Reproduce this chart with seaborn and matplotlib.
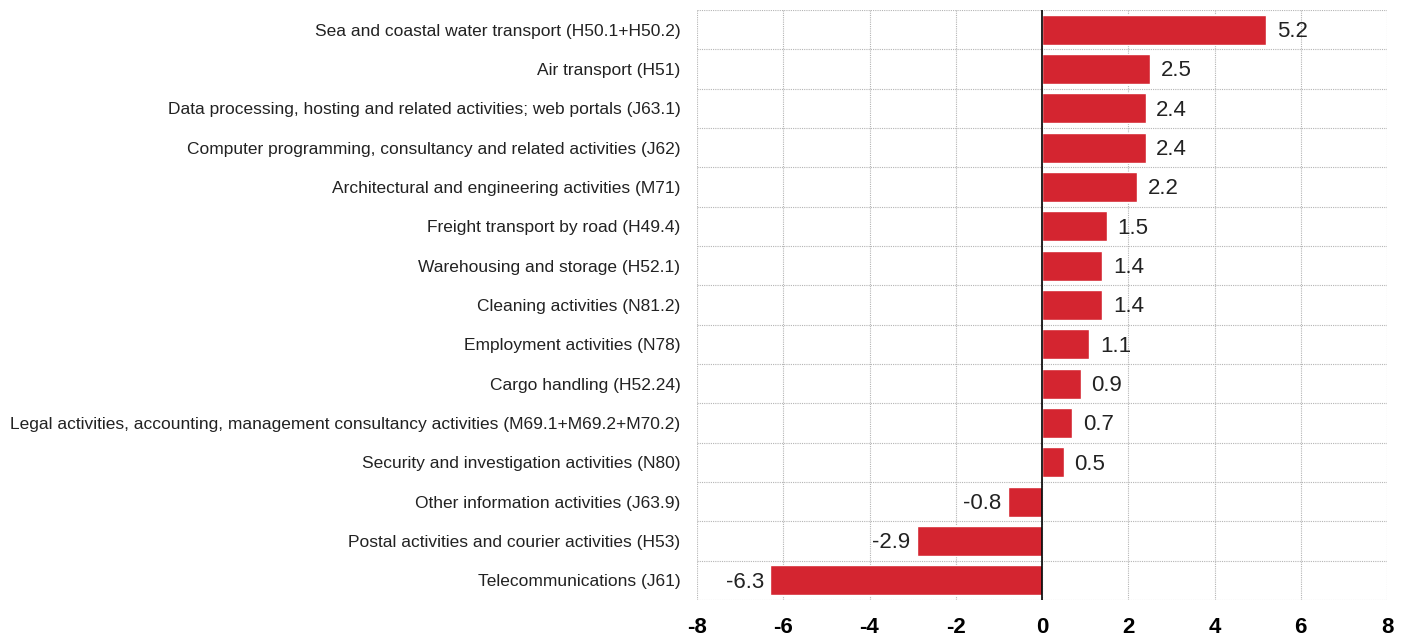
import matplotlib
matplotlib.use("Agg")
import matplotlib.pyplot as plt
import seaborn as sns
import pandas as pd
import numpy as np
from matplotlib import font_manager

categories = [
    "Sea and coastal water transport (H50.1+H50.2)",
    "Air transport (H51)",
    "Data processing, hosting and related activities; web portals (J63.1)",
    "Computer programming, consultancy and related activities (J62)",
    "Architectural and engineering activities (M71)",
    "Freight transport by road (H49.4)",
    "Warehousing and storage (H52.1)",
    "Cleaning activities (N81.2)",
    "Employment activities (N78)",
    "Cargo handling (H52.24)",
    "Legal activities, accounting, management consultancy activities (M69.1+M69.2+M70.2)",
    "Security and investigation activities (N80)",
    "Other information activities (J63.9)",
    "Postal activities and courier activities (H53)",
    "Telecommunications (J61)",
]
values = [5.2, 2.5, 2.4, 2.4, 2.2, 1.5, 1.4, 1.4, 1.1, 0.9, 0.7, 0.5, -0.8, -2.9, -6.3]
xticks = [-8, -6, -4, -2, 0, 2, 4, 6, 8]

sns.set_theme(style="white")
installed = {f.name for f in font_manager.fontManager.ttflist}
fam = "Liberation Sans Narrow" if "Liberation Sans Narrow" in installed else "Liberation Sans"
plt.rcParams['font.family'] = [fam, 'DejaVu Sans']

df = pd.DataFrame({"cat": categories, "val": values})

fig = plt.figure(figsize=(14.13, 6.43), dpi=100)
ax = fig.add_axes([697/1413, 1-600/643, (1387-697)/1413, 590/643])

sns.barplot(data=df, x="val", y="cat", orient="h", color="#D42530",
            saturation=1, width=0.77, ax=ax, order=categories)

ax.set_xlim(-8, 8)
ax.set_ylim(len(categories)-0.5, -0.5)
ax.set_xticks(xticks)
ax.set_xticklabels([str(t) for t in xticks], fontsize=16, fontweight="bold", color="black")
ax.set_yticks(range(len(categories)))
ax.set_yticklabels(categories, fontsize=12.5, color="#222222")
ax.set_yticks(np.arange(-0.5, len(categories), 1), minor=True)
ax.tick_params(axis="both", which="both", length=0)
ax.tick_params(axis="x", pad=12)
ax.tick_params(axis="y", pad=12)
ax.set_xlabel("")
ax.set_ylabel("")
for s in ax.spines.values():
    s.set_visible(False)
ax.grid(axis="x", which="major", color="#b4b4b4", linestyle=(0, (1, 1)), linewidth=0.8)
ax.grid(axis="y", which="minor", color="#b4b4b4", linestyle=(0, (1, 1)), linewidth=0.8)
ax.grid(axis="y", which="major", visible=False)
ax.set_axisbelow(True)
ax.axvline(0, color="black", linewidth=1.2, zorder=5)

for i, v in enumerate(values):
    if v >= 0:
        ax.text(v + 0.25, i + 0.05, f"{v:.1f}", ha="left", va="center", fontsize=16, color="#222222")
    else:
        ax.text(v - 0.15, i + 0.05, f"{v:.1f}", ha="right", va="center", fontsize=16, color="#222222")

fig.savefig("out.png", dpi=100)
